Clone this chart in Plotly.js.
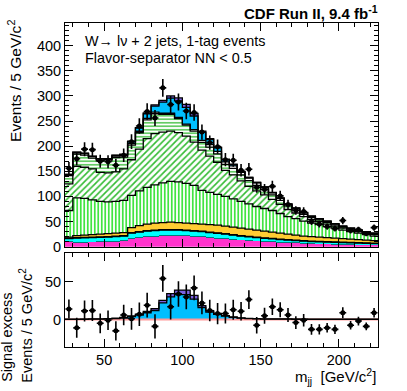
<!DOCTYPE html>
<html>
<head>
<meta charset="utf-8">
<script src="https://cdn.plot.ly/plotly-3.0.1.min.js"></script>
<style>html,body{margin:0;padding:0;background:#fff;}#plot{width:407px;height:391px;}</style>
</head>
<body>
<div id="plot"></div>
<script>
// bin centres (GeV/c^2), 5 GeV bins
const mjj = [27.5,32.5,37.5,42.5,47.5,52.5,57.5,62.5,67.5,72.5,77.5,82.5,87.5,92.5,97.5,102.5,107.5,112.5,117.5,122.5,127.5,132.5,137.5,142.5,147.5,152.5,157.5,162.5,167.5,172.5,177.5,182.5,187.5,192.5,197.5,202.5,207.5,212.5,217.5,222.5];

// background components (events / bin), bottom to top
const qcd   = [9,8,8,8.5,9,9.5,10,11,16,18,19,20,21,22,22,21,20,19,17.5,16,15,14,12.5,11.5,10.5,9.5,9,8,7.5,7,6,5.5,5,4.5,4,4,3.5,3,3,3];
const zjets = [1.5,1.5,1.5,1.5,1.5,1.5,1.5,1.5,1.5,1.5,1.5,1.5,1.5,1.5,1.5,1.5,1.5,1.5,1.5,1.5,1.5,1.5,1.5,1.5,1.5,1.5,1.5,1.5,1.5,1.5,1,1,1,1,1,1,1,1,1,1];
const stop  = [5.5,7.5,8,8,8,8,8.5,8.5,9.5,9.5,10.5,10.5,10.5,9.5,9.5,9.5,9.5,9.5,9,9,8.5,7.5,7,6.5,6,5.5,5,4.5,4,3.5,4,3.5,3.5,3.5,3.5,3,3,3,2.5,2];
const zz    = [1,1,1,1,1,1,1,1,1,1,1,1,1,1,1,1,1,1,1,1,1,1,1,1,1,1,1,1,1,1,1,1,1,1,1,1,1,1,1,1];
const ttbar = [2,4,4.5,5,5.5,6,6,6,10,12,13,14,14,15,14,14,14,14,15,15.5,15,15,15,14.5,14,13.5,12.5,12,11,10,9,9,8.5,8,7.5,7,6.5,6,5.5,5];
const wlf   = [53,75,73,69,65,63,63,64,64,69,73,76,79,81,81,79,76,67,64,61,59,56,53,50,47,45,43,39,35,33,30,27,25,22,20,17,15,13,11,9];
const wbb   = [53,63,62,62,58,58,59,63,71,83,97,102,101,100,98,94,86,80,72,64,52,48,41,35,31,27,22,18,14,11,9,7,6,5,4,4,3,3,3,3];
const wcc   = [16.4,24.4,24.3,21.1,23,23.7,28.2,23.2,29,32.7,37.2,39.5,35.5,33.5,28,22,22,15.5,18.2,16.8,11.7,12.6,11.7,11.4,10.8,11,9.1,8.2,7.2,6.3,4.3,3.9,3.4,3.4,2.4,2,2,1.5,1.5,1.5];
const wc    = [2,3,3,3,3,3,3,3,3,3,3,3,2,2,2,2,3,4,5,5,5,5,5,5,5,4,4,4,3,3,3,2.5,2,2,2,1.5,1.5,1,1,1];
// signal components
const ww    = [0.3,0.3,0.4,0.5,0.6,0.8,1.2,2,4,6,9,12,22,30,33,33,27,16,10,7,4.5,2.8,1.8,1.2,0.9,0.7,0.6,0.5,0.5,0.4,0.4,0.3,0.3,0.3,0.3,0.2,0.2,0.2,0.2,0.2];
const wz    = [0.3,0.3,0.3,0.4,0.4,0.5,0.6,0.8,1,1.3,1.8,2.5,3.5,4.5,6,6,5,2.5,1.8,1.2,0.8,0.6,0.5,0.4,0.3,0.3,0.3,0.3,0.3,0.3,0.3,0.3,0.3,0.3,0.3,0.3,0.3,0.3,0.3,0.3];
// data
const dataCounts = [156,175,194,193,170,169,162,182,209,240,269,256,316,283,288,270,267,228,207,199,173,172,152,154,118,114,120,101,84,72,70,50,45,40,36,52,32,34,26,38];
const excess     = [14,-11,11.5,12,-5,-1,-15,6,1,7,19,-9,54.5,17,34,30,42,22,12,8,8,13,11,26.5,-7.5,5,17,13,6,-4,-1,-13,-13,-11,-13,9,-7.5,-2,-9,9];

const dataErr = dataCounts.map(v => Math.sqrt(v));
const edges = mjj.map(c => c - 2.5).concat([mjj[mjj.length-1] + 2.5]);

const layers = [
  {y: qcd,   color: '#ff33cc'},
  {y: zjets, color: '#007a7a'},
  {y: stop,  color: '#00ffff'},
  {y: zz,    color: '#225533'},
  {y: ttbar, color: '#ffcc33'},
  {y: wlf,   color: '#ffffff', pattern: {shape: '|', fgcolor: '#11dd11', bgcolor: '#ffffff', size: 3.5, solidity: 0.4}},
  {y: wbb,   color: '#ffffff', pattern: {shape: '/', fgcolor: '#33bb33', bgcolor: '#ffffff', size: 4.5, solidity: 0.35}},
  {y: wcc,   color: '#ffffff', pattern: {shape: '-', fgcolor: '#33bb33', bgcolor: '#ffffff', size: 3.5, solidity: 0.38}},
  {y: wc,    color: '#ffffff'},
  {y: ww,    color: '#00bfff'},
  {y: wz,    color: '#7b60e0'}
];

const traces = [];
const cum = mjj.map(() => 0);
const outlines = [];
layers.forEach((L, k) => {
  const m = {color: L.color, line: {width: 0}};
  if (L.pattern) m.pattern = L.pattern;
  traces.push({type: 'bar', x: mjj, y: L.y, marker: m, xaxis: 'x', yaxis: 'y', hoverinfo: 'skip'});
  for (let i = 0; i < cum.length; i++) cum[i] += L.y[i];
  if (k >= 2) outlines.push(cum.slice());
});
function step(vals, xa, ya, color, w) {
  return {type: 'scatter', mode: 'lines', x: edges, y: vals.concat([vals[vals.length-1]]),
          line: {shape: 'hv', color: color, width: w}, xaxis: xa, yaxis: ya, hoverinfo: 'skip'};
}
outlines.forEach(o => traces.push(step(o, 'x', 'y', '#000', 1.3)));

traces.push({type: 'scatter', mode: 'markers', x: mjj, y: dataCounts, xaxis: 'x', yaxis: 'y',
  marker: {color: '#000', size: 5},
  error_y: {type: 'data', array: dataErr, color: '#000', thickness: 1.6, width: 0},
  error_x: {type: 'constant', value: 2.2, color: '#000', thickness: 1.6, width: 0}});

// lower panel
traces.push({type: 'bar', x: mjj, y: ww, marker: {color: '#00bfff', line: {width: 0}}, xaxis: 'x2', yaxis: 'y2', hoverinfo: 'skip'});
traces.push({type: 'bar', x: mjj, y: wz, marker: {color: '#7b60e0', line: {width: 0}}, xaxis: 'x2', yaxis: 'y2', hoverinfo: 'skip'});
traces.push({type: 'scatter', mode: 'lines', x: [edges[0], edges[edges.length-1]], y: [0, 0], line: {color: '#ff9a9a', width: 2}, xaxis: 'x2', yaxis: 'y2', hoverinfo: 'skip'});
const sigTot = ww.map((v, i) => v + wz[i]);
traces.push(step(ww, 'x2', 'y2', '#000', 1.3));
traces.push(step(sigTot, 'x2', 'y2', '#000', 1.3));
traces.push({type: 'scatter', mode: 'markers', x: mjj, y: excess, xaxis: 'x2', yaxis: 'y2',
  marker: {color: '#000', size: 5},
  error_y: {type: 'data', array: dataErr, color: '#000', thickness: 1.6, width: 0},
  error_x: {type: 'constant', value: 2.2, color: '#000', thickness: 1.6, width: 0}});

const FONT = 'Liberation Sans, Arial, Helvetica, sans-serif';
const axBase = {showline: true, linecolor: '#000', linewidth: 1, mirror: 'ticks', ticks: 'inside',
  ticklen: 8, tickwidth: 1, tickcolor: '#000', showgrid: false, zeroline: false,
  tickfont: {family: FONT, size: 14.5, color: '#000'}};

const layout = {
  width: 407, height: 391,
  margin: {l: 65, r: 29, t: 23, b: 44},
  paper_bgcolor: '#fff', plot_bgcolor: '#fff',
  showlegend: false, barmode: 'stack', bargap: 0,
  font: {family: FONT, color: '#000'},
  xaxis: Object.assign({}, axBase, {domain: [0, 1], anchor: 'y', range: [25, 225], dtick: 50, tick0: 0,
    showticklabels: false, minor: {dtick: 10, tick0: 0, ticks: 'inside', ticklen: 4, tickcolor: '#000'}}),
  yaxis: Object.assign({}, axBase, {domain: [0.3096, 1], anchor: 'x', range: [0, 445], dtick: 50, tick0: 0,
    minor: {dtick: 10, tick0: 0, ticks: 'inside', ticklen: 4, tickcolor: '#000'}}),
  xaxis2: Object.assign({}, axBase, {domain: [0, 1], anchor: 'y2', range: [25, 225], dtick: 50, tick0: 0,
    minor: {dtick: 10, tick0: 0, ticks: 'inside', ticklen: 4, tickcolor: '#000'}}),
  yaxis2: Object.assign({}, axBase, {domain: [0, 0.289], anchor: 'x2', range: [-36.4, 87.8], dtick: 50, tick0: 0}),
  annotations: [
    {text: '<b>CDF Run II, 9.4 fb<sup>-1</sup></b>', xref: 'paper', yref: 'paper', x: 1.006, y: 1.031,
     xanchor: 'right', yanchor: 'middle', showarrow: false, font: {family: FONT, size: 15}},
    {text: 'W\u2192 l\u03bd + 2 jets, 1-tag events', xref: 'paper', yref: 'paper', x: 0.0575, y: 0.944,
     xanchor: 'left', yanchor: 'middle', showarrow: false, font: {family: FONT, size: 14.4}},
    {text: 'Flavor-separator NN < 0.5', xref: 'paper', yref: 'paper', x: 0.0575, y: 0.8935,
     xanchor: 'left', yanchor: 'middle', showarrow: false, font: {family: FONT, size: 14.4}},
    {text: 'Events / 5 GeV/c<sup>2</sup>', xref: 'paper', yref: 'paper', x: -0.16, y: 1.0154,
     xanchor: 'center', yanchor: 'top', textangle: -90, showarrow: false, font: {family: FONT, size: 15.5}},
    {text: 'Signal excess', xref: 'paper', yref: 'paper', x: -0.185, y: -0.115,
     xanchor: 'center', yanchor: 'bottom', textangle: -90, showarrow: false, font: {family: FONT, size: 14.5}},
    {text: 'Events / 5 GeV/c<sup>2</sup>', xref: 'paper', yref: 'paper', x: -0.125, y: -0.115,
     xanchor: 'center', yanchor: 'bottom', textangle: -90, showarrow: false, font: {family: FONT, size: 14.5}},
    {text: 'm<sub>jj</sub>  [GeV/c<sup>2</sup>]', xref: 'paper', yref: 'paper', x: 1.0, y: -0.092,
     xanchor: 'right', yanchor: 'middle', showarrow: false, font: {family: FONT, size: 15}}
  ]
};

Plotly.newPlot('plot', traces, layout, {staticPlot: true, displayModeBar: false});
</script>
</body>
</html>
